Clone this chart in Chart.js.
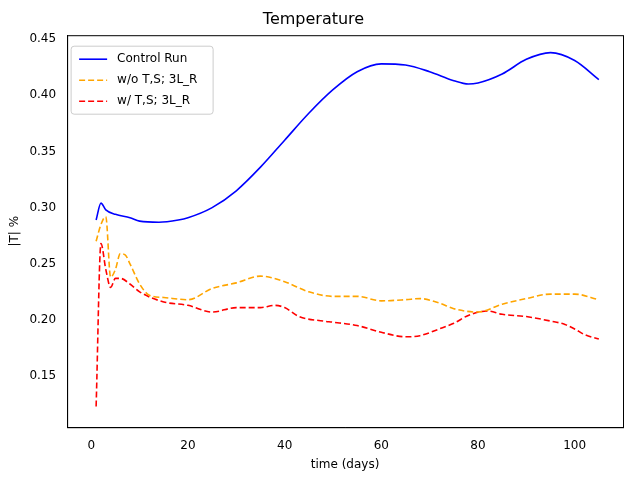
<!DOCTYPE html><html><head><script src="https://cdn.jsdelivr.net/npm/chart.js@4"></script>
<style>body{margin:0;background:#fff}#w{width:640px;height:480px}</style></head><body><div id="w"><canvas id="c"></canvas></div>
<script>
const ctrlDays=[1,2,3,5,8,10,14,18,20,25,30,35,40,45,50,55,60,65,70,75,78,80,85,90,95,100,105];
const ctrlVals=[0.289,0.304,0.298,0.294,0.291,0.288,0.287,0.289,0.291,0.300,0.315,0.336,0.360,0.384,0.405,0.421,0.428,0.427,0.421,0.413,0.410,0.411,0.419,0.432,0.438,0.431,0.414];
const woDays=[1,2,3,4,5,6,7,8,10,12,15,20,25,30,35,40,45,50,55,60,65,68,72,75,80,85,90,95,100,105];
const woVals=[0.27,0.285,0.292,0.238,0.245,0.259,0.258,0.25,0.232,0.222,0.220,0.218,0.228,0.233,0.239,0.234,0.225,0.221,0.221,0.217,0.218,0.219,0.215,0.210,0.207,0.214,0.219,0.223,0.223,0.218];
const wDays=[1,2,3,4,5,6,8,10,15,20,25,30,35,38,40,43,48,50,55,60,65,68,72,75,78,82,85,90,95,98,100,102,105];
const wVals=[0.123,0.268,0.245,0.229,0.237,0.237,0.232,0.225,0.216,0.213,0.207,0.211,0.211,0.213,0.211,0.203,0.199,0.198,0.195,0.189,0.185,0.186,0.192,0.197,0.204,0.208,0.205,0.203,0.199,0.196,0.192,0.187,0.183];
const pts=(d,v)=>d.map((x,i)=>({x,y:v[i]}));
const F={family:'DejaVu Sans',size:12};
const frame={id:'frame',afterDraw(ch){const {ctx,chartArea:a}=ch;ctx.save();ctx.strokeStyle='#000';ctx.lineWidth=1;ctx.strokeRect(a.left+0.5,a.top+0.5,a.right-a.left,a.bottom-a.top);
const x0=a.left+4,y0=a.top+11,w=142,h=68;ctx.fillStyle='rgba(255,255,255,0.85)';ctx.strokeStyle='#ccc';
ctx.beginPath();ctx.roundRect(x0,y0,w,h,3);ctx.fill();ctx.stroke();
ctx.font='12px "DejaVu Sans"';ctx.textBaseline='middle';
ch.data.datasets.forEach((d,i)=>{const y=y0+13+i*21;ctx.strokeStyle=d.borderColor;ctx.lineWidth=1.6;ctx.setLineDash(d.borderDash||[]);ctx.beginPath();ctx.moveTo(x0+8,y);ctx.lineTo(x0+36,y);ctx.stroke();ctx.setLineDash([]);ctx.fillStyle='#000';ctx.fillText(d.label,x0+46,y);});
ctx.restore();}};
new Chart(document.getElementById('c'),{type:'line',data:{datasets:[
{label:'Control Run',data:pts(ctrlDays,ctrlVals),borderColor:'blue',borderWidth:1.6},
{label:'w/o T,S; 3L_R',data:pts(woDays,woVals),borderColor:'orange',borderDash:[6,3],borderWidth:1.6},
{label:'w/ T,S; 3L_R',data:pts(wDays,wVals),borderColor:'red',borderDash:[6,3],borderWidth:1.6}]},
plugins:[frame],
options:{responsive:true,maintainAspectRatio:false,animation:false,
elements:{point:{radius:0},line:{tension:0.35,cubicInterpolationMode:'monotone'}},
layout:{padding:{right:17,top:0,left:4,bottom:4}},
plugins:{title:{display:true,text:'Temperature',color:'#000',font:{family:'DejaVu Sans',size:16,weight:'normal'},padding:{top:10,bottom:6}},
legend:{display:false}},
scales:{x:{type:'linear',min:-5,max:110,grid:{display:false,drawTicks:true},border:{color:'#000'},
ticks:{stepSize:20,color:'#000',font:F,callback:v=>v%20===0&&v>=0&&v<=100?v:''},title:{display:true,text:'time (days)',color:'#000',font:F,padding:{top:2}}},
y:{min:0.1045,max:0.4535,grid:{display:false},border:{color:'#000'},
ticks:{color:'#000',font:F,stepSize:0.05,callback:v=>v.toFixed(2)},
afterBuildTicks:a=>{a.ticks=[0.15,0.2,0.25,0.3,0.35,0.4,0.45].map(v=>({value:v}));},
title:{display:true,text:'|T| %',color:'#000',font:F}}}}});
</script></body></html>
